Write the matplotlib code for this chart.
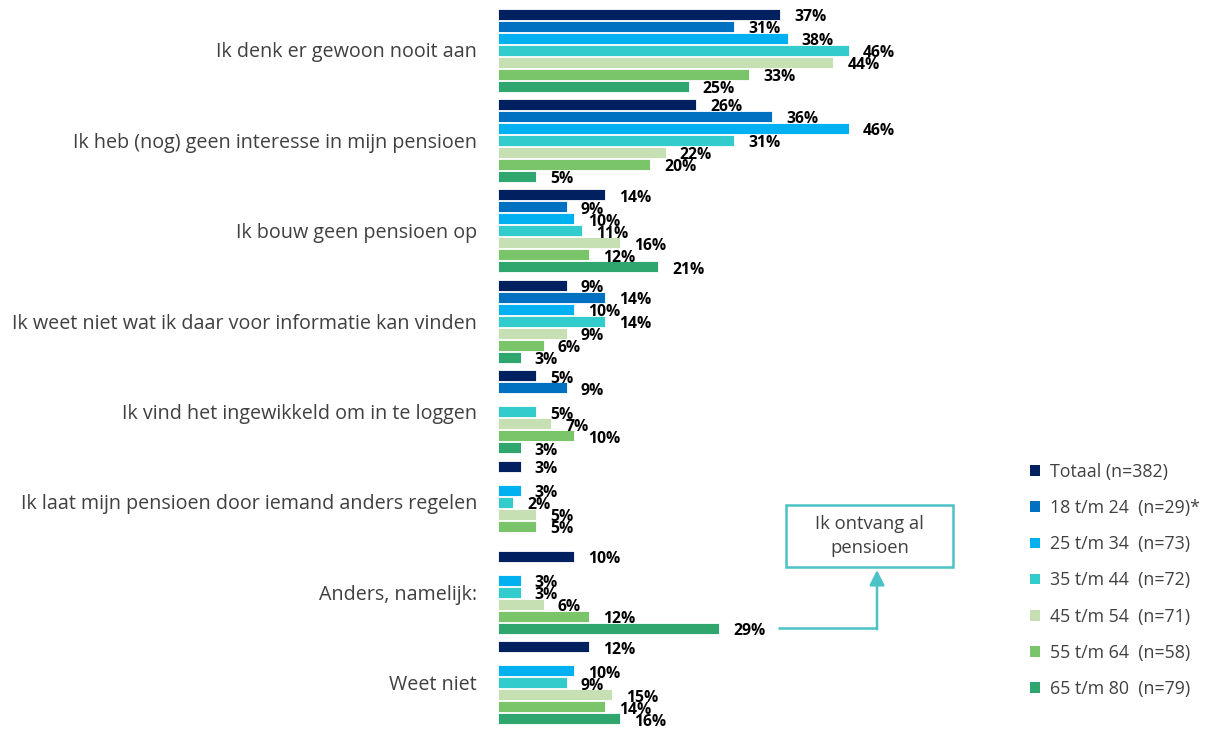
import matplotlib
matplotlib.use("Agg")
import matplotlib.pyplot as plt
from matplotlib.patches import Patch, Rectangle
import numpy as np

plt.rcParams['font.family'] = ['Open Sans', 'DejaVu Sans']

categories = [
    "Ik denk er gewoon nooit aan",
    "Ik heb (nog) geen interesse in mijn pensioen",
    "Ik bouw geen pensioen op",
    "Ik weet niet wat ik daar voor informatie kan vinden",
    "Ik vind het ingewikkeld om in te loggen",
    "Ik laat mijn pensioen door iemand anders regelen",
    "Anders, namelijk:",
    "Weet niet",
]
series_names = [
    "Totaal (n=382)",
    "18 t/m 24  (n=29)*",
    "25 t/m 34  (n=73)",
    "35 t/m 44  (n=72)",
    "45 t/m 54  (n=71)",
    "55 t/m 64  (n=58)",
    "65 t/m 80  (n=79)",
]
totaal   = [37, 26, 14, 9, 5, 3, 10, 12]
age18_24 = [31, 36, 9, 14, 9, 0, 0, 0]
age25_34 = [38, 46, 10, 10, 0, 3, 3, 10]
age35_44 = [46, 31, 11, 14, 5, 2, 3, 9]
age45_54 = [44, 22, 16, 9, 7, 5, 6, 15]
age55_64 = [33, 20, 12, 6, 10, 5, 12, 14]
age65_80 = [25, 5, 21, 3, 3, 0, 29, 16]
series = [totaal, age18_24, age25_34, age35_44, age45_54, age55_64, age65_80]
colors = ["#002060", "#0070C0", "#00B0F0", "#33CCCC", "#C6E0B4", "#7AC46A", "#2EA66E"]

annot_text = "Ik ontvang al\npensioen"

W, H = 1220, 729
fig = plt.figure(figsize=(W / 100, H / 100), dpi=100)
ax_left = 498 / W
ax_right = 1000 / W
ax = fig.add_axes([ax_left, 0, ax_right - ax_left, 1])

px = 7.62  # pixels per percent
ax.set_xlim(0, (1000 - 498) / px)
period = 90.4
top_c = 50
ax.set_ylim((H - top_c) / period, -top_c / period)

step = 12.0 / period
bar_h = 11.0 / period
y_base = np.arange(len(categories))
for j, (vals, col) in enumerate(zip(series, colors)):
    ys = y_base + (j - 3) * step
    ax.barh(ys, vals, height=bar_h, color=col, edgecolor="white", linewidth=0.6)
    for y, v in zip(ys, vals):
        if v > 0:
            ax.text(v + 14 / px, y + 3.0 / period, f"{v}%", ha="left", va="center",
                    fontsize=11.3, fontweight="bold", color="black")

ax.set_yticks(y_base)
ax.set_yticklabels(categories, fontsize=14.2, color="#404040")
ax.tick_params(axis="y", length=0, pad=15)
ax.set_xticks([])
for s in ax.spines.values():
    s.set_visible(False)

# annotation for 65 t/m 80 "Anders"
teal = "#4BC3C6"
y29 = 6 + 3 * step
x_start = (778 - 498) / px
x_corner = (877 - 498) / px
y_tip = (570 - top_c) / period
ax.plot([x_start, x_corner], [y29, y29], color=teal, lw=1.8, clip_on=False, solid_capstyle="butt")
ax.annotate("", xy=(x_corner, y_tip), xytext=(x_corner, y29 + 0.01),
            arrowprops=dict(arrowstyle="-|>,head_length=0.9,head_width=0.45", color=teal, lw=1.8,
                            shrinkA=0, shrinkB=0),
            annotation_clip=False)
bx0, bx1 = (786 - 498) / px, (953 - 498) / px
by0, by1 = (505 - top_c) / period, (567 - top_c) / period
ax.add_patch(Rectangle((bx0, by0), bx1 - bx0, by1 - by0, facecolor="white", edgecolor=teal,
                       linewidth=1.8, clip_on=False, zorder=3))
ax.text((bx0 + bx1) / 2, (536 - top_c) / period, annot_text, ha="center", va="center",
        fontsize=13.2, color="#404040", linespacing=1.4, zorder=4, clip_on=False)

handles = [Patch(facecolor=c, edgecolor="none") for c in colors]
leg = fig.legend(handles, series_names, loc="upper left", bbox_to_anchor=(1030 / W, 1 - 463 / H),
                 frameon=False, fontsize=12.8, handlelength=0.55, handleheight=0.55, handletextpad=0.55,
                 labelspacing=1.02, borderaxespad=0, borderpad=0)
for t in leg.get_texts():
    t.set_color("#404040")

fig.savefig("out.png", dpi=100)
